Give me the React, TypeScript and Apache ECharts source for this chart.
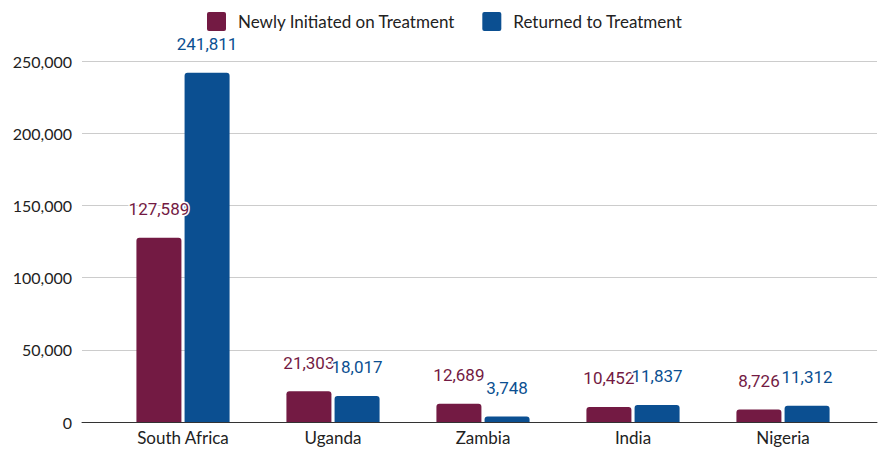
import React, { useEffect, useRef } from "react";
import * as echarts from "echarts";

const categories = ["South Africa", "Uganda", "Zambia", "India", "Nigeria"];
const newlyInitiated = [127589, 21303, 12689, 10452, 8726];
const returnedToTreatment = [241811, 18017, 3748, 11837, 11312];
const seriesNames = ["Newly Initiated on Treatment", "Returned to Treatment"];
const colors = ["#731a43", "#0b4f91"];

const legendIcon =
  "path://M2,0 H17 A2,2 0 0 1 19,2 V17 A2,2 0 0 1 17,19 H2 A2,2 0 0 1 0,17 V2 A2,2 0 0 1 2,0 Z";

export default function App() {
  const ref = useRef<HTMLDivElement>(null);
  useEffect(() => {
    const chart = echarts.init(ref.current!, null, { renderer: "svg" });
    const fmt = (v: number) => v.toLocaleString("en-US");
    const labelFor = (c: string) => ({
      show: true,
      position: "top" as const,
      distance: 20,
      color: c,
      fontFamily: "Roboto",
      fontSize: 17,
      textBorderColor: "#fff",
      textBorderWidth: 3,
      formatter: (p: any) => fmt(p.value),
    });
    chart.setOption({
      animation: false,
      backgroundColor: "#fff",
      textStyle: { fontFamily: "Lato" },
      legend: {
        top: 7,
        left: 202,
        itemWidth: 19,
        itemHeight: 19,
        itemGap: 27,
        icon: legendIcon,
        textStyle: { fontFamily: "Lato", fontSize: 17, color: "#222", padding: [0, 0, 0, 7] },
        data: seriesNames,
      },
      grid: [
        { left: 82, right: 3, top: 61, bottom: 27 },
        { left: 108, right: 22, top: 61, bottom: 27 },
      ],
      xAxis: [
        {
          gridIndex: 0,
          type: "value",
          min: 0,
          max: 1,
          axisLine: { show: true, lineStyle: { color: "#333", width: 1 } },
          axisTick: { show: false },
          axisLabel: { show: false },
          splitLine: { show: false },
        },
        {
          gridIndex: 1,
          type: "category",
          data: categories,
          axisLine: { show: false },
          axisTick: { show: false },
          axisLabel: { fontFamily: "Lato", fontSize: 17, color: "#222", margin: 7 },
        },
      ],
      yAxis: [
        {
          gridIndex: 0,
          type: "value",
          min: 0,
          max: 250000,
          interval: 50000,
          axisLine: { show: false },
          axisTick: { show: false },
          axisLabel: {
            fontFamily: "Lato",
            fontSize: 16,
            color: "#222",
            margin: 10,
            formatter: (v: number) => fmt(v),
          },
          splitLine: { lineStyle: { color: "#cccccc", width: 1 } },
        },
        {
          gridIndex: 1,
          type: "value",
          min: 0,
          max: 250000,
          interval: 50000,
          axisLine: { show: false },
          axisTick: { show: false },
          axisLabel: { show: false },
          splitLine: { show: false },
        },
      ],
      series: [
        {
          name: seriesNames[0],
          type: "bar",
          xAxisIndex: 1,
          yAxisIndex: 1,
          data: newlyInitiated,
          barWidth: 45,
          barGap: "7%",
          itemStyle: { color: colors[0], borderRadius: [3, 3, 0, 0] },
          label: labelFor(colors[0]),
        },
        {
          name: seriesNames[1],
          type: "bar",
          xAxisIndex: 1,
          yAxisIndex: 1,
          data: returnedToTreatment,
          barWidth: 45,
          barGap: "7%",
          itemStyle: { color: colors[1], borderRadius: [3, 3, 0, 0] },
          label: labelFor(colors[1]),
        },
      ],
    });
    return () => chart.dispose();
  }, []);
  return <div ref={ref} style={{ width: 880, height: 449, position: "fixed", left: 0, top: 0 }} />;
}
